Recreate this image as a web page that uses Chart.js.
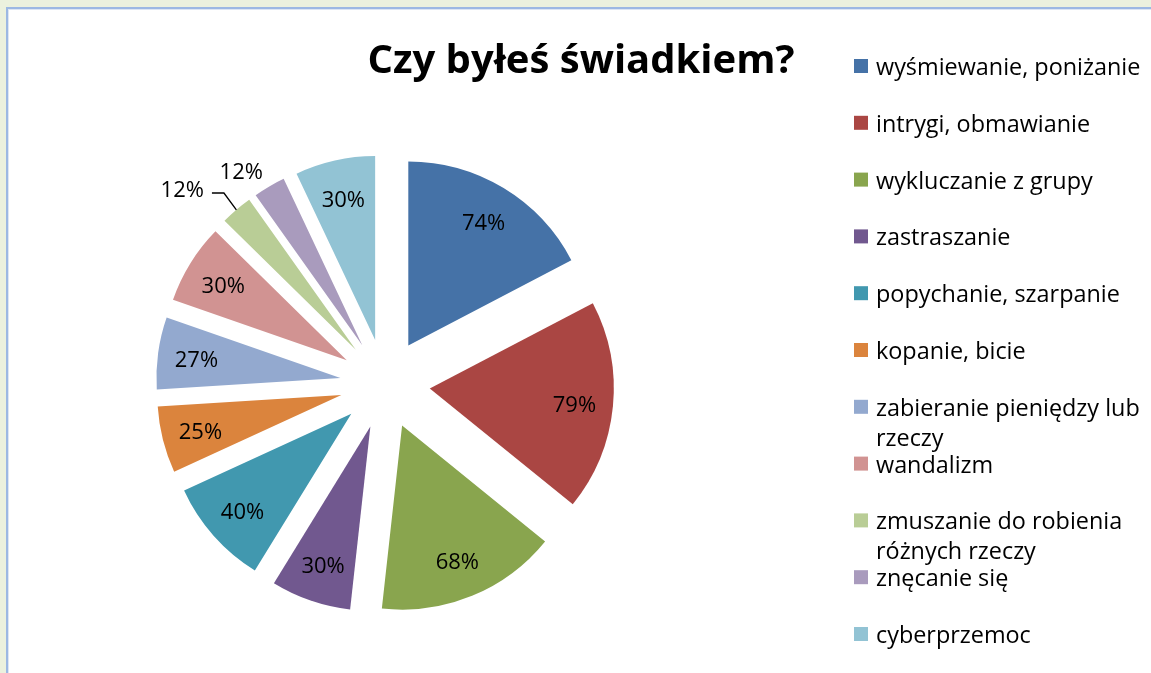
<!DOCTYPE html>
<html>
<head>
<meta charset="utf-8">
<script src="https://cdn.jsdelivr.net/npm/chart.js@4"></script>
<style>
  html, body { margin: 0; padding: 0; }
  body { width: 1151px; height: 673px; background: #ebf1de; position: relative; overflow: hidden; }
  #plot { position: absolute; left: 6px; top: 7px; width: 1160px; height: 680px; background: #fff;
          border-left: 2px solid #9cb8e3; border-top: 2px solid #9cb8e3; box-shadow: inset 1px 1px 0 #dce6f4; }
  #chart { position: absolute; left: 0; top: 0; }
</style>
</head>
<body>
<div id="plot"></div>
<canvas id="chart" width="1151" height="673"></canvas>
<script>
const title = "Czy byłeś świadkiem?";

const categories = [
  "wyśmiewanie, poniżanie",
  "intrygi, obmawianie",
  "wykluczanie z grupy",
  "zastraszanie",
  "popychanie, szarpanie",
  "kopanie, bicie",
  ["zabieranie pieniędzy lub", "rzeczy"],
  "wandalizm",
  ["zmuszanie do robienia", "różnych rzeczy"],
  "znęcanie się",
  "cyberprzemoc"
];

const percents = [74, 79, 68, 30, 40, 25, 27, 30, 12, 12, 30];

const colors = [
  "#4572a7", "#aa4643", "#89a54e", "#71588f", "#4198af", "#db843d",
  "#93a9cf", "#d19392", "#b9cd96", "#a99bbd", "#92c3d4"
];

const EXPLODE = 45;

// draw every slice pushed out from the centre along its middle angle
const explodePlugin = {
  id: 'explode',
  beforeDatasetDraw(chart, args) {
    const ctx = chart.ctx;
    args.meta.data.forEach(arc => {
      const mid = (arc.startAngle + arc.endAngle) / 2;
      ctx.save();
      ctx.translate(Math.cos(mid) * EXPLODE, Math.sin(mid) * EXPLODE);
      arc.draw(ctx, chart.chartArea);
      ctx.restore();
    });
    return false;
  }
};

// percent labels, two small slices get theirs outside
const outsideLabels = {
  8: { dist: 282, turn: -5.5, leader: true },
  9: { dist: 258, turn: -3.5 }
};

const labelPlugin = {
  id: 'sliceLabels',
  afterDatasetsDraw(chart) {
    const ctx = chart.ctx;
    const meta = chart.getDatasetMeta(0);
    ctx.save();
    ctx.font = '22px "Open Sans"';
    ctx.fillStyle = '#000';
    ctx.textAlign = 'center';
    ctx.textBaseline = 'alphabetic';
    meta.data.forEach((arc, i) => {
      const mid = (arc.startAngle + arc.endAngle) / 2;
      const txt = percents[i] + '%';
      const out = outsideLabels[i];
      let x, y;
      if (out) {
        const a = mid + out.turn * Math.PI / 180;
        x = arc.x + Math.cos(a) * out.dist;
        y = arc.y + Math.sin(a) * out.dist;
        if (out.leader) {
          const w = ctx.measureText(txt).width;
          const ex = arc.x + Math.cos(mid) * (EXPLODE + arc.outerRadius);
          const ey = arc.y + Math.sin(mid) * (EXPLODE + arc.outerRadius);
          ctx.beginPath();
          ctx.strokeStyle = '#000';
          ctx.lineWidth = 1.3;
          ctx.moveTo(x + w / 2 + 8, y + 5);
          ctx.lineTo(x + w / 2 + 20, y + 5);
          ctx.lineTo(ex, ey);
          ctx.stroke();
        }
      } else {
        const d = EXPLODE + arc.outerRadius * 0.79;
        x = arc.x + Math.cos(mid) * d;
        y = arc.y + Math.sin(mid) * d;
      }
      ctx.fillText(txt, x, y + 9);
    });
    ctx.restore();
  }
};

// title and legend on the right
const sidePlugin = {
  id: 'side',
  afterDraw(chart) {
    const ctx = chart.ctx;
    ctx.save();
    ctx.fillStyle = '#000';
    ctx.font = 'bold 40px "Open Sans"';
    ctx.textAlign = 'center';
    ctx.textBaseline = 'alphabetic';
    ctx.fillText(title, 581, 73);

    ctx.font = '23.4px "Open Sans"';
    ctx.textAlign = 'left';
    categories.forEach((lab, i) => {
      const base = 75 + i * 56.8;
      ctx.fillStyle = colors[i];
      ctx.fillRect(854, base - 16, 14, 14);
      ctx.fillStyle = '#000';
      const lines = Array.isArray(lab) ? lab : [lab];
      lines.forEach((t, k) => ctx.fillText(t, 876, base + k * 30));
    });
    ctx.restore();
  }
};

const ctx = document.getElementById('chart').getContext('2d');
new Chart(ctx, {
  type: 'pie',
  data: {
    labels: categories,
    datasets: [{
      data: percents,
      backgroundColor: colors,
      borderWidth: 0
    }]
  },
  options: {
    responsive: false,
    animation: false,
    layout: { padding: { left: 201, top: 200, right: 582, bottom: 105 } },
    plugins: {
      legend: { display: false },
      title: { display: false },
      tooltip: { enabled: false }
    }
  },
  plugins: [explodePlugin, labelPlugin, sidePlugin]
});
</script>
</body>
</html>
